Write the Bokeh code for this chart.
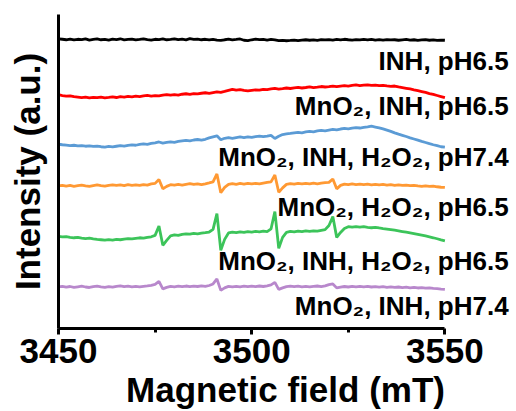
from bokeh.plotting import figure
from bokeh.models import Range1d, FixedTicker, Label
from bokeh.embed import file_html
from bokeh.resources import INLINE
import numpy as np

# Magnetic field (mT), 1 mT steps
field = np.arange(3450, 3551, 1)

# Stacked EPR spectra (a.u., offsets included)
black = [292.5, 292, 291.5, 292.2, 291.3, 292, 291.6, 292.4, 291.2, 291.8,
         292.3, 291.5, 291.9, 291.2, 292.1, 291.7, 292.5, 291.4, 291.9, 292.2,
         291.3, 291.8, 292.4, 291.6, 291.1, 292, 291.7, 292.3, 291.5, 291.9,
         292.5, 291.6, 292.1, 291.4, 292.6, 291.8, 292.2, 291.5, 292, 291.3,
         291.9, 291.2, 290.8, 291.5, 292.1, 291.4, 291.8, 292.3, 291, 290.6,
         291.5, 292.2, 291.6, 291.9, 291.2, 291.8, 291.4, 290.7, 290.9, 290.5,
         290.8, 291.2, 290.6, 291.1, 291.5, 291, 291.4, 290.9, 291.6, 291.3,
         291.7, 291.2, 291.8, 291.4, 292, 291.5, 291.2, 291.7, 291.3, 291.8,
         291.4, 291.9, 291.2, 291.6, 291.1, 291.7, 291.3, 291.5, 291, 291.4,
         291.8, 291.2, 291.5, 290.9, 291.3, 291.6, 291, 291.4, 290.8, 291.2,
         291]
red = [236, 235.2, 234.6, 234.9, 234, 233.6, 233.1, 233.5, 232.8, 233.4,
       233, 233.6, 232.9, 233.3, 233.8, 233.2, 234, 233.6, 234.3, 233.9,
       234.5, 234.1, 234.8, 235.3, 234.7, 235.2, 234.8, 235.6, 236.2, 235.5,
       236.1, 235.7, 236.5, 237, 236.4, 237.2, 236.8, 237.5, 238, 237.4,
       238.2, 239, 238.4, 239.3, 240.4, 241.5, 240.6, 241.2, 240.3, 239.8,
       240.4, 241, 240.6, 241.5, 241.1, 241.8, 242.4, 241.7, 242.2, 242.8,
       242.3, 242.9, 243.4, 242.8, 243.3, 243.9, 243.2, 243.7, 244.3, 243.8,
       244.2, 244.8, 244.1, 244.7, 245.3, 244.8, 245.4, 245.9, 245.2, 245.7,
       246, 245.4, 245.8, 245.1, 245.5, 244.9, 244.4, 244.8, 243.9, 243.2,
       242.5, 241.8, 240.9, 240.1, 239.2, 238.3, 237.2, 236.3, 235.2, 234.1,
       233]
blue = [186, 185.5, 185.1, 184.6, 185, 184.3, 184.7, 184, 184.4, 183.8,
        184.2, 183.5, 183.2, 183.8, 183.4, 184, 184.6, 184.1, 184.9, 185.4,
        185, 185.8, 186.3, 185.9, 186.8, 187.5, 188.3, 187.2, 187.8, 188.4,
        188, 188.8, 189.4, 190, 189.5, 190.3, 190.8, 190.2, 191, 192.5,
        193.5, 194.5, 190.5, 192, 192.6, 192, 192.8, 193.4, 192.8, 193.5,
        193, 193.7, 194.2, 193.6, 194.2, 195, 191.8, 194, 195.8, 196.4,
        196.9, 197.5, 198, 197.6, 198.4, 199, 198.6, 199.5, 200, 199.6,
        200.3, 201, 200.6, 201.4, 202, 201.6, 202.3, 202.8, 202.4, 203.1,
        203.6, 204.2, 203.4, 202.6, 201.5, 200.3, 199, 197.5, 196.2, 195,
        193.8, 192.5, 191.3, 190.1, 188.9, 187.8, 186.6, 185.5, 184.6, 183.5,
        183]
orange = [144, 144.6, 143.8, 144.4, 143.6, 144.2, 144.8, 144.1, 143.5, 144.3,
          144.9, 144.2, 143.7, 144.5, 145, 144.4, 144.9, 144.3, 145.2, 144.6,
          145.1, 144.5, 145.3, 144.8, 146, 146.5, 150.5, 141, 143.5, 145.2,
          144.7, 145.4, 144.8, 145.6, 146.2, 145.4, 146, 145.3, 146.1, 147,
          148, 156, 137, 142.5, 145.5, 146.3, 145.6, 146.4, 145.8, 146.5,
          145.9, 146.6, 146, 146.8, 147.5, 148, 155, 137.5, 142, 145.5,
          146.3, 145.7, 146.4, 145.9, 146.6, 146, 146.7, 146.1, 146.8, 147.3,
          147.5, 151, 141, 144.5, 145.8, 145.2, 145.9, 145.3, 145.8, 145.2,
          145.7, 145.1, 145.6, 145, 145.4, 144.8, 145.2, 144.6, 145, 144.4,
          144.8, 144.2, 144.6, 144, 143.5, 144.1, 143.4, 143.8, 143.1, 142.6,
          142.4]
green = [93, 92.5, 92.8, 92.1, 91.6, 92, 91.3, 90.8, 91.2, 90.5,
         90, 89.6, 89.2, 89.7, 89.3, 90, 89.6, 90.3, 90.8, 90.4,
         91, 91.6, 91.2, 92, 92.6, 94, 103.5, 84, 89, 93.5,
         94.5, 94, 95, 95.6, 95.2, 96, 95.6, 96.3, 96.8, 97.4,
         100, 116, 79, 90, 96.5, 97.2, 96.7, 97.5, 97, 97.8,
         97.4, 98, 97.5, 98.2, 97.8, 100.5, 118, 81, 92, 97,
         98, 97.5, 98.3, 97.8, 98.5, 98, 98.6, 98.2, 99, 99.8,
         104, 113, 92, 97, 101, 102.8, 102.3, 102.9, 102.4, 102.8,
         102.2, 101.7, 102.2, 101.5, 100.9, 100.4, 99.8, 99.2, 98.6, 97.9,
         97.2, 96.5, 95.8, 95, 94.2, 93.4, 92.5, 91.6, 90.6, 89.5,
         88.5]
purple = [42, 42.6, 41.8, 42.4, 41.5, 42.1, 42.7, 41.9, 41.4, 42.2,
          42.8, 42.1, 41.6, 42.3, 41.7, 42.5, 43, 42.2, 42.7, 42.1,
          42.6, 42, 42.5, 43, 43.6, 44.5, 47.5, 40, 41.5, 42.6,
          42.1, 42.7, 42.2, 42.9, 42.3, 42.8, 42.4, 43, 42.5, 43.4,
          45, 50, 38.5, 41, 42.5, 42, 42.6, 42.1, 42.7, 42.2,
          42.8, 42.3, 42.9, 42.4, 43.1, 44, 46.5, 39.5, 41, 42.3,
          42.8, 42.2, 42.7, 42.1, 42.6, 42, 42.5, 42.9, 42.3, 43,
          44.3, 45, 41, 41.8, 42.4, 41.9, 42.5, 42, 42.6, 42.1,
          42.5, 41.9, 42.3, 41.7, 42.2, 41.6, 42, 41.5, 41.9, 41.3,
          41.7, 41.1, 41.5, 40.9, 41.3, 40.7, 41.1, 40.5, 40.3, 39.8,
          39.5]

series = [black, red, blue, orange, green, purple]
colors = ["#000000", "#FF0000", "#5B9BD5", "#FF9933", "#3CC45A", "#B888CC"]
labels = ["INH, pH6.5",
          "MnO\u2082, INH, pH6.5",
          "MnO\u2082, INH, H\u2082O\u2082, pH7.4",
          "MnO\u2082, H\u2082O\u2082, pH6.5",
          "MnO\u2082, INH, H\u2082O\u2082, pH6.5",
          "MnO\u2082, INH, pH7.4"]
label_y = [270, 225, 173, 123, 68, 23]

x_ticks = [3450, 3500, 3550]
x_minor = [3475, 3525]

FONT = "Liberation Sans"

p = figure(width=516, height=411, output_backend="svg", toolbar_location=None,
           x_range=Range1d(3450, 3567.5), y_range=Range1d(0, 317),
           min_border_left=58, min_border_right=4, min_border_top=14,
           min_border_bottom=80)
p.outline_line_color = None
p.xgrid.visible = False
p.ygrid.visible = False
p.background_fill_color = "white"
p.border_fill_color = "white"

for ys, c in zip(series, colors):
    p.line(field, ys, line_color=c, line_width=2.8)

for t, yy in zip(labels, label_y):
    p.add_layout(Label(x=3566.5, y=yy, text=t, text_align="right",
                       text_baseline="alphabetic", text_font=FONT,
                       text_font_style="bold", text_font_size="26px",
                       text_color="black"))

xa = p.xaxis[0]
xa.bounds = (3450, 3550)
xa.ticker = FixedTicker(ticks=x_ticks, minor_ticks=x_minor)
xa.axis_line_width = 3
xa.major_tick_line_width = 3
xa.minor_tick_line_width = 3
xa.major_tick_in = 0
xa.major_tick_out = 6
xa.minor_tick_in = 0
xa.minor_tick_out = 4
xa.major_label_text_font = FONT
xa.major_label_text_font_style = "bold"
xa.major_label_text_font_size = "35px"
xa.major_label_text_color = "black"
xa.major_label_standoff = 4
xa.axis_label = "Magnetic field (mT)"
xa.axis_label_text_font = FONT
xa.axis_label_text_font_style = "bold"
xa.axis_label_text_font_size = "35px"
xa.axis_label_text_color = "black"
xa.axis_label_standoff = 4

ya = p.yaxis[0]
ya.ticker = FixedTicker(ticks=[])
ya.axis_line_width = 3
ya.major_tick_line_color = None
ya.minor_tick_line_color = None
ya.major_label_text_font_size = "0px"
ya.axis_label = "Intensity (a.u.)"
ya.axis_label_text_font = FONT
ya.axis_label_text_font_style = "bold"
ya.axis_label_text_font_size = "35px"
ya.axis_label_text_color = "black"
ya.axis_label_standoff = 12

open("out.html", "w").write(file_html(p, INLINE))
